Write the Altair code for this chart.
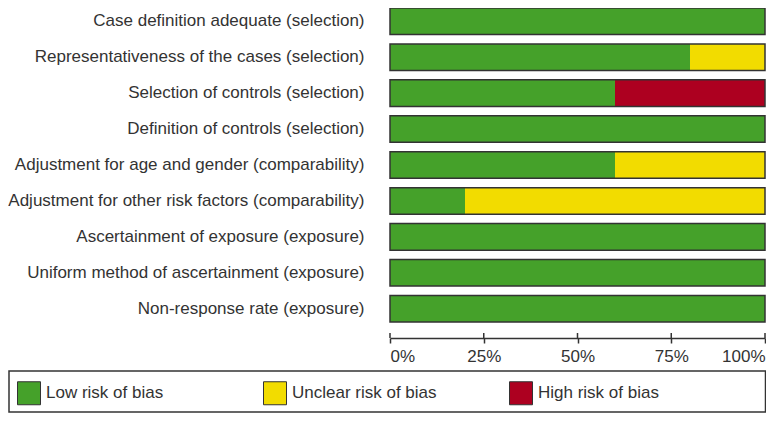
import altair as alt
import pandas as pd

domains = [
    "Case definition adequate (selection)",
    "Representativeness of the cases (selection)",
    "Selection of controls (selection)",
    "Definition of controls (selection)",
    "Adjustment for age and gender (comparability)",
    "Adjustment for other risk factors (comparability)",
    "Ascertainment of exposure (exposure)",
    "Uniform method of ascertainment (exposure)",
    "Non-response rate (exposure)",
]
low = [100, 80, 60, 100, 60, 20, 100, 100, 100]
unclear = [0, 20, 0, 0, 40, 80, 0, 0, 0]
high = [0, 0, 40, 0, 0, 0, 0, 0, 0]
risk_names = ["Low risk of bias", "Unclear risk of bias", "High risk of bias"]
risk_colors = ["#45A12A", "#F2DC00", "#AD0020"]
tick_values = [0, 25, 50, 75, 100]

rows = []
for i, d in enumerate(domains):
    for k, (name, vals) in enumerate(zip(risk_names, [low, unclear, high])):
        rows.append({"domain": d, "risk": name, "value": vals[i], "ord": k})
df = pd.DataFrame(rows)
outline = pd.DataFrame({"domain": domains, "start": [0] * len(domains), "end": [100] * len(domains)})
ticks = pd.DataFrame({"t": tick_values})

H = 314
W = 375
OFF = 16
ysc = alt.Scale(paddingInner=0.26, paddingOuter=0)
FONT = "Liberation Sans"
FS = 17
INK = "#333333"

bars = alt.Chart(df).mark_bar(strokeWidth=0).encode(
    y=alt.Y("domain:N", sort=domains, scale=ysc, title=None,
            axis=alt.Axis(domain=False, ticks=False, labelPadding=26, labelFontSize=FS,
                          labelFont=FONT, labelColor=INK, labelLimit=600)),
    x=alt.X("value:Q", stack="zero", scale=alt.Scale(domain=[0, 100], nice=False), title=None,
            axis=alt.Axis(values=tick_values, labelExpr="datum.value + '%'", labelFlush=True,
                          grid=False, offset=OFF, domainColor=INK, domainWidth=1.5,
                          tickColor=INK, tickWidth=1.5, tickSize=5, labelPadding=5,
                          labelFontSize=FS, labelFont=FONT, labelColor=INK)),
    color=alt.Color("risk:N", scale=alt.Scale(domain=risk_names, range=risk_colors),
                    legend=alt.Legend(orient="none", legendX=-373, legendY=373, direction="horizontal",
                                      columns=3, gridAlign="all", columnPadding=70, title=None,
                                      symbolType="square", symbolSize=529, symbolStrokeColor=INK,
                                      symbolStrokeWidth=1, symbolOpacity=1, labelFontSize=FS, labelFont=FONT,
                                      labelColor=INK, labelOffset=5, padding=0)),
    order=alt.Order("ord:Q"),
)

frame = alt.Chart(outline).mark_bar(fillOpacity=0, stroke=INK, strokeWidth=1.5).encode(
    y=alt.Y("domain:N", sort=domains, scale=ysc),
    x=alt.X("start:Q"),
    x2="end:Q",
)

upticks = alt.Chart(ticks).mark_rule(color=INK, strokeWidth=1.5).encode(
    x=alt.X("t:Q"),
    y=alt.value(H + OFF - 5),
    y2=alt.value(H + OFF),
)

box = alt.Chart(alt.Data(values=[{"a": 1}])).mark_rect(fillOpacity=0, stroke=INK, strokeWidth=1.5).encode(
    x=alt.value(-381), x2=alt.value(375.5), y=alt.value(363), y2=alt.value(404)
)

chart = alt.layer(bars, frame, upticks, box).properties(
    width=W, height=H,
    autosize=alt.AutoSizeParams(type="none"),
    padding={"left": 382, "top": 0, "right": 1, "bottom": 91},
    background="white",
).configure_view(stroke=None)

chart.save("out.html", embed_options={"renderer": "svg", "actions": False})
